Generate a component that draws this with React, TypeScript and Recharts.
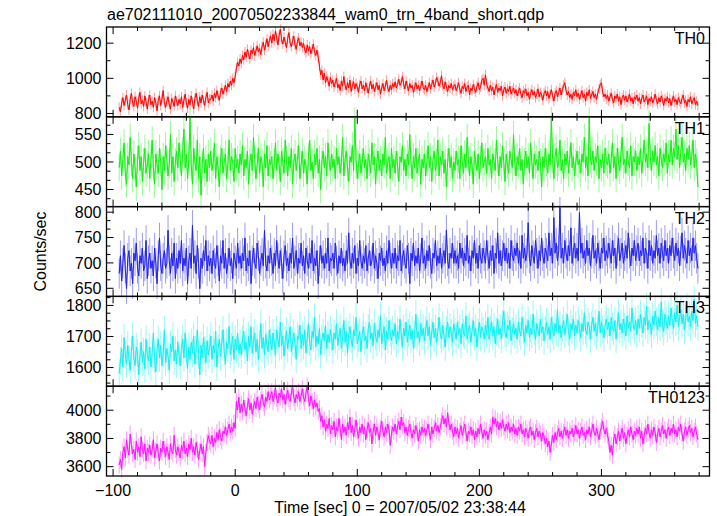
import React from 'react';
import { LineChart, Line, XAxis, YAxis, ErrorBar } from 'recharts';

// light curve bins: start time and width (sec)
const T_START = -95;
const T_STEP = 1;

const th0 = [
  835, 810, 860, 890, 845, 875, 905, 850, 820, 880, 915, 860, 840, 895, 870, 830, 885, 920, 855, 875, 840, 900, 865, 825, 880,
  905, 850, 870, 835, 890, 860, 815, 875, 900, 845, 880, 930, 860, 835, 870, 895, 850, 825, 885, 865, 840, 900, 870, 845, 880,
  855, 895, 835, 875, 910, 860, 830, 880, 850, 900, 865, 825, 885, 915, 870, 840, 895, 860, 905, 875, 845, 890, 920, 860, 880,
  880, 905, 870, 915, 890, 930, 900, 875, 920, 945, 910, 935, 960, 925, 970, 950, 985, 960, 1000, 975, 1010, 1060, 1090, 1070, 1110,
  1085, 1130, 1105, 1150, 1120, 1165, 1135, 1110, 1160, 1140, 1175, 1130, 1155, 1185, 1150, 1170, 1135, 1180, 1205, 1160, 1190, 1225, 1180, 1215, 1240,
  1200, 1250, 1215, 1270, 1230, 1190, 1245, 1280, 1220, 1195, 1235, 1205, 1175, 1225, 1260, 1200, 1180, 1215, 1240, 1190, 1165, 1210, 1230, 1185, 1205,
  1175, 1200, 1160, 1145, 1190, 1155, 1180, 1140, 1165, 1195, 1150, 1130, 1160, 1120, 1070, 1020, 1045, 990, 1030, 975, 1010, 985, 955, 1005, 970,
  990, 950, 975, 1000, 945, 965, 930, 985, 955, 1010, 960, 935, 975, 945, 990, 925, 960, 980, 940, 970, 950, 920, 965, 985, 940,
  960, 930, 975, 945, 915, 955, 985, 940, 965, 925, 950, 975, 935, 960, 910, 945, 970, 930, 955, 990, 945, 925, 960, 935, 970,
  950, 980, 945, 965, 995, 960, 975, 1010, 965, 940, 985, 955, 930, 970, 945, 960, 920, 950, 975, 940, 960, 930, 955, 985, 945,
  935, 960, 925, 950, 975, 940, 965, 990, 950, 970, 1005, 985, 955, 975, 1015, 960, 940, 980, 950, 925, 960, 945, 970, 935, 955,
  965, 930, 950, 975, 935, 915, 955, 940, 970, 925, 950, 960, 905, 945, 930, 965, 940, 920, 955, 975, 935, 950, 990, 1000, 960,
  1020, 965, 945, 925, 960, 930, 950, 905, 940, 965, 920, 945, 930, 955, 900, 935, 950, 915, 940, 925, 955, 910, 930, 945, 915,
  935, 900, 925, 945, 910, 890, 930, 915, 940, 900, 920, 880, 915, 935, 905, 925, 890, 910, 940, 895, 920, 905, 875, 915, 930,
  900, 925, 885, 910, 935, 900, 870, 915, 930, 895, 920, 945, 905, 935, 960, 975, 930, 905, 925, 890, 910, 880, 920, 900, 935,
  895, 915, 880, 905, 930, 890, 910, 870, 920, 900, 935, 885, 905, 925, 890, 910, 880, 915, 940, 965, 975, 920, 895, 910, 885,
  905, 870, 895, 915, 880, 860, 900, 885, 910, 870, 895, 850, 890, 905, 875, 900, 865, 885, 910, 870, 890, 855, 895, 880, 905,
  870, 890, 855, 885, 905, 865, 880, 900, 850, 885, 870, 895, 860, 880, 910, 875, 855, 890, 865, 900, 880, 845, 885, 870, 895,
  860, 885, 845, 875, 900, 865, 880, 850, 890, 870, 855, 885, 905, 860, 875, 840, 880, 865, 895, 855, 875, 890, 850, 870, 845,
];

const th1 = [
  490, 520, 475, 505, 535, 480, 460, 510, 495, 545, 500, 470, 515, 490, 455, 505, 530, 485, 510, 465, 500, 525, 480, 495, 515,
  470, 505, 540, 490, 460, 515, 495, 480, 525, 500, 450, 510, 485, 530, 505, 475, 495, 550, 480, 510, 465, 500, 520, 490, 535,
  505, 475, 520, 560, 490, 515, 470, 505, 580, 495, 460, 525, 500, 485, 540, 470, 510, 440, 495, 525, 480, 505, 465, 515, 490,
  520, 485, 500, 535, 470, 510, 490, 455, 505, 525, 480, 500, 515, 470, 495, 540, 485, 510, 500, 465, 525, 490, 505, 480, 515,
  495, 530, 475, 505, 490, 520, 460, 500, 515, 485, 545, 505, 470, 495, 525, 480, 510, 500, 455, 515, 490, 530, 475, 505, 495,
  510, 470, 500, 535, 485, 515, 495, 465, 520, 500, 480, 540, 505, 475, 510, 490, 525, 460, 500, 515, 485, 505, 530, 470, 495,
  520, 480, 505, 495, 460, 510, 540, 485, 500, 470, 515, 495, 525, 480, 505, 450, 500, 520, 490, 510, 475, 535, 500, 485, 515,
  490, 505, 470, 525, 495, 510, 480, 500, 545, 475, 505, 520, 490, 465, 510, 500, 530, 485, 580, 505, 470, 495, 515, 480, 500,
  525, 490, 505, 470, 515, 500, 480, 535, 495, 510, 460, 500, 520, 485, 505, 475, 515, 495, 545, 480, 500, 510, 470, 525, 490,
  505, 480, 520, 495, 465, 510, 500, 530, 485, 505, 475, 515, 495, 550, 500, 470, 510, 490, 525, 480, 500, 515, 460, 505, 490,
  515, 475, 500, 530, 490, 510, 465, 505, 520, 485, 500, 540, 475, 510, 495, 520, 480, 505, 455, 500, 525, 490, 510, 470, 500,
  485, 520, 495, 505, 470, 530, 500, 480, 515, 490, 545, 505, 475, 510, 495, 460, 520, 500, 485, 515, 470, 505, 535, 490, 500,
  510, 480, 525, 495, 505, 470, 515, 500, 485, 540, 505, 475, 510, 490, 530, 500, 465, 515, 495, 480, 520, 505, 490, 550, 500,
  475, 510, 495, 525, 485, 505, 460, 500, 520, 490, 510, 480, 535, 500, 470, 515, 495, 505, 485, 520, 500, 455, 510, 490, 525,
  500, 480, 515, 495, 580, 505, 470, 510, 525, 490, 500, 540, 485, 505, 470, 515, 495, 520, 480, 505, 535, 490, 510, 475, 500,
  520, 495, 505, 480, 515, 500, 545, 490, 510, 475, 580, 505, 495, 520, 485, 510, 500, 530, 470, 505, 490, 515, 480, 525, 500,
  495, 515, 480, 505, 535, 490, 510, 470, 525, 500, 485, 515, 545, 495, 505, 480, 520, 500, 490, 530, 475, 510, 500, 520, 485,
  510, 495, 525, 480, 505, 540, 500, 515, 490, 570, 510, 485, 520, 500, 530, 495, 510, 475, 525, 505, 490, 515, 500, 535, 480,
  515, 500, 540, 495, 525, 510, 560, 505, 530, 490, 520, 545, 500, 515, 485, 525, 505, 530, 495, 510, 540, 490, 515, 500, 455,
];

const th2 = [
  680, 715, 665, 700, 735, 690, 650, 710, 725, 685, 700, 660, 720, 705, 740, 690, 675, 715, 700, 730, 685, 695, 745, 670, 705,
  720, 690, 705, 675, 730, 700, 660, 715, 750, 695, 680, 710, 725, 690, 700, 765, 705, 680, 720, 695, 740, 670, 710, 690, 725,
  700, 745, 685, 710, 695, 730, 660, 705, 720, 690, 775, 700, 715, 680, 735, 700, 650, 710, 690, 725, 705, 745, 685, 715, 695,
  710, 680, 725, 700, 690, 735, 705, 665, 715, 700, 745, 690, 720, 680, 700, 730, 695, 710, 670, 720, 705, 690, 740, 700, 715,
  690, 720, 705, 750, 685, 710, 695, 725, 660, 705, 730, 700, 690, 740, 715, 680, 705, 720, 695, 765, 700, 685, 715, 700, 730,
  705, 680, 720, 695, 745, 710, 690, 725, 700, 670, 715, 735, 695, 710, 685, 720, 700, 750, 690, 705, 725, 680, 710, 700, 740,
  695, 715, 680, 730, 705, 690, 720, 700, 745, 685, 710, 695, 725, 660, 705, 735, 700, 715, 690, 720, 700, 750, 685, 710, 705,
  720, 690, 740, 705, 680, 715, 700, 730, 695, 710, 685, 725, 700, 760, 705, 690, 720, 700, 735, 680, 710, 695, 745, 705, 690,
  715, 700, 735, 685, 710, 725, 695, 705, 740, 690, 715, 700, 670, 720, 705, 730, 695, 710, 685, 725, 700, 745, 710, 690, 720,
  700, 730, 690, 715, 705, 745, 685, 710, 725, 700, 690, 735, 710, 660, 720, 705, 740, 695, 715, 700, 730, 685, 710, 750, 700,
  715, 690, 725, 705, 735, 700, 680, 720, 710, 745, 695, 715, 700, 730, 690, 710, 725, 700, 765, 705, 690, 720, 710, 740, 700,
  725, 700, 715, 690, 740, 710, 730, 695, 720, 705, 755, 700, 715, 685, 725, 710, 745, 700, 720, 690, 735, 710, 700, 730, 715,
  700, 745, 715, 690, 725, 705, 735, 680, 720, 710, 760, 700, 725, 695, 715, 740, 705, 730, 700, 720, 690, 745, 715, 705, 730,
  715, 740, 700, 725, 690, 755, 710, 730, 705, 720, 780, 710, 695, 735, 715, 700, 745, 720, 690, 725, 705, 750, 715, 700, 730,
  720, 705, 760, 715, 730, 700, 790, 720, 740, 705, 725, 810, 710, 730, 700, 745, 720, 705, 735, 715, 770, 700, 725, 740, 710,
  730, 705, 800, 720, 740, 710, 725, 700, 745, 715, 730, 695, 720, 755, 710, 725, 700, 740, 715, 690, 730, 720, 750, 705, 725,
  710, 740, 720, 700, 745, 715, 730, 690, 725, 750, 705, 720, 740, 700, 715, 735, 710, 760, 720, 695, 730, 715, 745, 705, 725,
  740, 705, 725, 715, 750, 700, 730, 720, 690, 745, 715, 735, 700, 725, 710, 755, 715, 730, 700, 740, 720, 705, 745, 715, 730,
  700, 735, 715, 750, 720, 705, 740, 715, 730, 695, 725, 760, 710, 735, 720, 700, 745, 715, 730, 705, 750, 720, 735, 710, 690,
];

const th3 = [
  1580, 1620, 1660, 1600, 1695, 1640, 1610, 1670, 1625, 1590, 1655, 1700, 1630, 1605, 1665, 1645, 1575, 1635, 1680, 1615, 1650, 1595, 1690, 1640, 1620,
  1665, 1600, 1645, 1710, 1625, 1585, 1655, 1690, 1630, 1670, 1605, 1645, 1720, 1615, 1660, 1635, 1590, 1675, 1650, 1700, 1620, 1655, 1610, 1680, 1640,
  1605, 1660, 1690, 1630, 1710, 1650, 1595, 1665, 1625, 1680, 1645, 1700, 1610, 1655, 1720, 1640, 1575, 1670, 1630, 1695, 1655, 1615, 1685, 1640, 1660,
  1700, 1625, 1670, 1645, 1715, 1600, 1660, 1690, 1635, 1675, 1720, 1650, 1610, 1680, 1660, 1730, 1640, 1665, 1700, 1625, 1690, 1655, 1710, 1645, 1675,
  1640, 1690, 1715, 1655, 1680, 1620, 1700, 1665, 1730, 1645, 1685, 1710, 1650, 1690, 1625, 1675, 1740, 1660, 1695, 1640, 1705, 1670, 1650, 1720, 1680,
  1655, 1710, 1680, 1640, 1720, 1690, 1665, 1745, 1670, 1700, 1635, 1685, 1715, 1660, 1695, 1730, 1650, 1680, 1710, 1675, 1625, 1700, 1690, 1735, 1660,
  1705, 1670, 1720, 1645, 1690, 1740, 1680, 1655, 1715, 1695, 1760, 1665, 1700, 1675, 1725, 1640, 1690, 1710, 1685, 1735, 1660, 1705, 1680, 1720, 1695,
  1655, 1710, 1690, 1740, 1670, 1700, 1725, 1660, 1695, 1750, 1680, 1715, 1645, 1705, 1730, 1690, 1665, 1720, 1700, 1760, 1675, 1695, 1715, 1650, 1705,
  1730, 1685, 1700, 1660, 1725, 1745, 1690, 1710, 1670, 1740, 1700, 1680, 1720, 1695, 1765, 1675, 1705, 1730, 1655, 1715, 1690, 1750, 1710, 1685, 1720,
  1700, 1740, 1675, 1715, 1690, 1755, 1705, 1665, 1725, 1700, 1745, 1680, 1710, 1735, 1690, 1720, 1660, 1705, 1770, 1695, 1715, 1680, 1740, 1700, 1725,
  1685, 1720, 1750, 1700, 1730, 1670, 1710, 1745, 1695, 1725, 1680, 1715, 1760, 1705, 1690, 1735, 1700, 1665, 1720, 1745, 1695, 1730, 1710, 1680, 1740,
  1715, 1690, 1745, 1705, 1725, 1675, 1740, 1710, 1700, 1765, 1690, 1720, 1735, 1680, 1715, 1750, 1700, 1725, 1665, 1710, 1745, 1695, 1730, 1715, 1690,
  1735, 1705, 1760, 1690, 1720, 1745, 1700, 1730, 1675, 1715, 1755, 1705, 1725, 1690, 1740, 1780, 1710, 1695, 1735, 1720, 1750, 1685, 1715, 1740, 1705,
  1725, 1690, 1745, 1715, 1700, 1760, 1720, 1680, 1735, 1710, 1750, 1695, 1725, 1705, 1770, 1715, 1690, 1740, 1720, 1700, 1755, 1710, 1730, 1685, 1720,
  1745, 1705, 1730, 1690, 1760, 1720, 1700, 1740, 1715, 1785, 1710, 1735, 1695, 1725, 1750, 1705, 1730, 1770, 1715, 1690, 1740, 1720, 1755, 1700, 1735,
  1710, 1750, 1725, 1695, 1740, 1715, 1775, 1720, 1705, 1745, 1730, 1690, 1735, 1760, 1715, 1740, 1700, 1725, 1780, 1710, 1745, 1720, 1695, 1735, 1755,
  1720, 1745, 1700, 1760, 1730, 1715, 1750, 1690, 1735, 1775, 1720, 1740, 1710, 1755, 1730, 1700, 1765, 1725, 1745, 1715, 1790, 1735, 1720, 1750, 1705,
  1755, 1725, 1770, 1740, 1710, 1760, 1735, 1795, 1720, 1750, 1740, 1705, 1765, 1735, 1780, 1745, 1720, 1760, 1730, 1810, 1740, 1715, 1770, 1750, 1725,
  1765, 1735, 1790, 1750, 1725, 1775, 1745, 1800, 1730, 1760, 1785, 1740, 1770, 1720, 1755, 1795, 1745, 1765, 1730, 1780, 1750, 1820, 1740, 1765, 1730,
];

const th0123 = [
  3610, 3650, 3580, 3700, 3740, 3660, 3790, 3720, 3680, 3830, 3750, 3690, 3720, 3650, 3780, 3700, 3740, 3670, 3810, 3720, 3690, 3760, 3640, 3730, 3700,
  3750, 3680, 3720, 3790, 3660, 3710, 3760, 3690, 3640, 3730, 3700, 3780, 3720, 3670, 3740, 3700, 3650, 3760, 3710, 3690, 3820, 3720, 3680, 3740, 3700,
  3660, 3750, 3710, 3780, 3690, 3730, 3670, 3760, 3720, 3800, 3700, 3740, 3680, 3770, 3720, 3650, 3710, 3760, 3690, 3740, 3600, 3700, 3770, 3820, 3780,
  3760, 3820, 3740, 3800, 3770, 3840, 3790, 3860, 3810, 3780, 3850, 3830, 3880, 3820, 3860, 3900, 3840, 3880, 3850, 3910, 3870, 4060, 4000, 4090, 3980,
  4040, 3990, 4070, 4010, 3960, 4030, 4080, 4000, 4050, 3970, 4020, 4060, 4010, 4090, 4040, 4000, 4070, 4110, 4050, 4020, 4090, 4060, 4130, 4070, 4100,
  4130, 4060, 4100, 4160, 4080, 4050, 4120, 4090, 4150, 4070, 4110, 4040, 4100, 4140, 4080, 4060, 4120, 4170, 4090, 4050, 4110, 4080, 4130, 4060, 4100,
  4150, 4090, 4060, 4120, 4170, 4080, 4030, 4100, 4060, 4010, 4070, 4020, 4050, 3990, 4010, 3920, 3960, 3880, 3930, 3850, 3900, 3870, 3940, 3830, 3890,
  3860, 3920, 3810, 3880, 3850, 3940, 3870, 3790, 3900, 3840, 3880, 3820, 3910, 3860, 3950, 3840, 3890, 3810, 3870, 3930, 3850, 3800, 3880, 3840, 3900,
  3830, 3880, 3790, 3860, 3910, 3840, 3870, 3760, 3850, 3900, 3820, 3880, 3840, 3790, 3870, 3920, 3850, 3810, 3880, 3840, 3900, 3860, 3750, 3830, 3880,
  3850, 3900, 3830, 3880, 3920, 3860, 3950, 3890, 3910, 3840, 3880, 3820, 3870, 3900, 3840, 3800, 3860, 3830, 3890, 3850, 3780, 3860, 3820, 3880, 3840,
  3870, 3820, 3860, 3900, 3840, 3790, 3880, 3830, 3870, 3910, 3850, 3890, 3840, 3880, 3920, 3960, 3900, 3940, 3880, 3980, 3910, 3860, 3900, 3850, 3810,
  3880, 3830, 3870, 3800, 3850, 3890, 3820, 3860, 3900, 3840, 3780, 3850, 3830, 3880, 3820, 3860, 3790, 3850, 3810, 3870, 3830, 3900, 3850, 3800, 3860,
  3820, 3850, 3790, 3840, 3880, 3830, 3950, 3900, 3940, 3880, 3920, 3860, 3910, 3870, 3930, 3880, 3850, 3900, 3860, 3910, 3840, 3880, 3850, 3900, 3830,
  3870, 3820, 3880, 3850, 3900, 3830, 3860, 3810, 3870, 3840, 3800, 3860, 3880, 3820, 3850, 3790, 3840, 3870, 3810, 3850, 3830, 3780, 3840, 3810, 3760,
  3800, 3740, 3780, 3700, 3760, 3820, 3770, 3840, 3790, 3830, 3870, 3810, 3850, 3800, 3840, 3880, 3820, 3860, 3800, 3850, 3830, 3870, 3810, 3840, 3890,
  3830, 3860, 3800, 3850, 3880, 3820, 3840, 3790, 3860, 3830, 3880, 3810, 3850, 3900, 3840, 3820, 3870, 3830, 3790, 3850, 3880, 3920, 3860, 3830, 3870,
  3820, 3780, 3700, 3750, 3680, 3790, 3830, 3760, 3810, 3850, 3780, 3830, 3870, 3800, 3840, 3760, 3820, 3860, 3810, 3880, 3830, 3790, 3850, 3820, 3870,
  3830, 3880, 3800, 3850, 3760, 3820, 3870, 3830, 3900, 3840, 3800, 3860, 3820, 3880, 3840, 3770, 3830, 3870, 3810, 3850, 3890, 3830, 3860, 3800, 3850,
  3880, 3820, 3870, 3840, 3900, 3830, 3860, 3810, 3880, 3850, 3900, 3830, 3780, 3850, 3880, 3820, 3860, 3890, 3840, 3870, 3810, 3850, 3880, 3830, 3790,
];

// half-length of the error bars (counts/sec)
const TH0_ERR = 28;
const TH1_ERR = 25;
const TH2_ERR = 30;
const TH3_ERR = 45;
const TH0123_ERR = 60;

const X_DOMAIN = [-105.4, 388.5];
const X_MAJOR = [-100, 0, 100, 200, 300];
const X_MINOR_STEP = 20;

const FONT = '"Liberation Sans", Arial, Helvetica, sans-serif';
const W = 717;
const PLOT_LEFT = 106.5;
const PLOT_RIGHT = 709.5;
const PLOT_TOP = 27;
const PANEL_H = 89.8;
const PAD = 10;
const MAJOR_LEN = 7;
const MINOR_LEN = 4;

const panels = [
  { name: 'TH0', values: th0, err: TH0_ERR, domain: [781, 1292], majors: [800, 1000, 1200], step: 100, color: '#ff0000', light: '#ff9a9a' },
  { name: 'TH1', values: th1, err: TH1_ERR, domain: [419, 582], majors: [450, 500, 550], step: 50 / 3, color: '#10f010', light: '#9af79a' },
  { name: 'TH2', values: th2, err: TH2_ERR, domain: [634, 811], majors: [650, 700, 750, 800], step: 50 / 3, color: '#2020f0', light: '#9a9af5' },
  { name: 'TH3', values: th3, err: TH3_ERR, domain: [1540, 1829], majors: [1600, 1700, 1800], step: 25, color: '#10f0f0', light: '#9af7f7' },
  { name: 'TH0123', values: th0123, err: TH0123_ERR, domain: [3534, 4170], majors: [3600, 3800, 4000], step: 100, color: '#ff10ff', light: '#ff9aff' },
];

const range = (lo: number, hi: number, step: number) => {
  const out: number[] = [];
  const start = Math.ceil((lo - 1e-6) / step);
  for (let k = start; k * step <= hi + 1e-6; k++) out.push(k * step);
  return out;
};

const xTicks = range(X_DOMAIN[0], X_DOMAIN[1], X_MINOR_STEP);
const isMajor = (v: number, majors: number[]) => majors.some((m) => Math.abs(m - v) < 1e-6);
const fmt = (v: number) => (v < 0 ? '\u2212' + Math.abs(v) : String(v));

const XLabel = (props: any) => {
  const { payload, show } = props;
  if (!show || !isMajor(payload.value, X_MAJOR)) return <g />;
  return (
    <text x={Number(props.x)} y={Number(props.y) + 20} textAnchor="middle" fontSize={16} fontFamily={FONT} fill="#000">
      {fmt(payload.value)}
    </text>
  );
};

const YLabel = (props: any) => {
  const { payload, show, majors } = props;
  if (!show || !isMajor(payload.value, majors)) return <g />;
  return (
    <text x={Number(props.x) - 5} y={Number(props.y) + 5.5} textAnchor="end" fontSize={16} fontFamily={FONT} fill="#000">
      {Math.round(payload.value)}
    </text>
  );
};

// inward tick marks on all four sides of a panel frame
const frameTicks = (p: any, i: number) => {
  const top = PLOT_TOP + i * PANEL_H;
  const bottom = top + PANEL_H;
  const sx = (v: number) => PLOT_LEFT + ((v - X_DOMAIN[0]) / (X_DOMAIN[1] - X_DOMAIN[0])) * (PLOT_RIGHT - PLOT_LEFT);
  const sy = (v: number) => top + ((p.domain[1] - v) / (p.domain[1] - p.domain[0])) * PANEL_H;
  let d = '';
  xTicks.forEach((v) => {
    const len = isMajor(v, X_MAJOR) ? MAJOR_LEN : MINOR_LEN;
    const x = sx(v);
    d += `M${x},${bottom}V${bottom - len}M${x},${top}V${top + len}`;
  });
  range(p.domain[0], p.domain[1], p.step).forEach((v) => {
    const len = isMajor(v, p.majors) ? MAJOR_LEN : MINOR_LEN;
    const y = sy(v);
    d += `M${PLOT_LEFT},${y}H${PLOT_LEFT + len}M${PLOT_RIGHT},${y}H${PLOT_RIGHT - len}`;
  });
  return <path key={'ticks' + p.name} d={d} stroke="#000" strokeWidth={1} fill="none" />;
};

const Panel = ({ p, index, last }: { p: any; index: number; last: boolean }) => {
  const data = p.values.map((v: number, i: number) => ({ t: T_START + i * T_STEP, v, e: p.err }));
  const yTicks = range(p.domain[0], p.domain[1], p.step);
  const bottomH = last ? 30 : 0;
  const top = PLOT_TOP + index * PANEL_H;
  const common = {
    tickSize: 0,
    tickMargin: 0,
    axisLine: false,
    tickLine: false,
    interval: 0 as const,
    allowDataOverflow: true,
    type: 'number' as const,
  };
  return (
    <div style={{ position: 'absolute', left: 0, top: top - PAD }}>
      <LineChart
        width={W}
        height={PANEL_H + 2 * PAD + bottomH}
        data={data}
        margin={{ top: PAD, right: 0, bottom: PAD, left: 0 }}
      >
        <XAxis
          {...common}
          xAxisId="b"
          dataKey="t"
          orientation="bottom"
          domain={X_DOMAIN}
          ticks={xTicks}
          height={bottomH}
          tick={(tp: any) => <XLabel {...tp} show={last} />}
        />
        <YAxis
          {...common}
          yAxisId="l"
          orientation="left"
          domain={p.domain}
          ticks={yTicks}
          width={PLOT_LEFT}
          tick={(tp: any) => <YLabel {...tp} show majors={p.majors} />}
        />
        <YAxis
          {...common}
          yAxisId="r"
          orientation="right"
          domain={p.domain}
          ticks={yTicks}
          width={W - PLOT_RIGHT}
          tick={false}
        />
        <Line
          xAxisId="b"
          yAxisId="l"
          type="linear"
          dataKey="v"
          stroke={p.light}
          strokeWidth={1}
          dot={false}
          isAnimationActive={false}
        >
          <ErrorBar dataKey="e" direction="y" width={0} stroke={p.light} strokeWidth={1} isAnimationActive={false} />
        </Line>
        <Line
          xAxisId="b"
          yAxisId="l"
          type="linear"
          dataKey="v"
          stroke={p.color}
          strokeWidth={1}
          dot={false}
          isAnimationActive={false}
        />
      </LineChart>
    </div>
  );
};

export default function App() {
  return (
    <div style={{ position: 'absolute', left: 0, top: 0, width: W, height: 516, background: '#fff' }}>
      {panels.map((p, i) => (
        <Panel key={p.name} p={p} index={i} last={i === panels.length - 1} />
      ))}
      <svg width={W} height={516} style={{ position: 'absolute', left: 0, top: 0, pointerEvents: 'none' }}>
        {panels.map((p, i) => (
          <rect
            key={'frame' + p.name}
            x={PLOT_LEFT}
            y={PLOT_TOP + i * PANEL_H}
            width={PLOT_RIGHT - PLOT_LEFT}
            height={PANEL_H}
            fill="none"
            stroke="#000"
            strokeWidth={1.3}
          />
        ))}
        {panels.map((p, i) => frameTicks(p, i))}
        <g fontFamily={FONT} fontSize={16} fill="#000">
          <text x={107} y={20}>ae702111010_20070502233844_wam0_trn_4band_short.qdp</text>
          <text x={400} y={513} textAnchor="middle">
            Time [sec] 0 = 2007/05/02 23:38:44
          </text>
          <text transform={`translate(46, ${PLOT_TOP + 2.5 * PANEL_H}) rotate(-90)`} textAnchor="middle">
            Counts/sec
          </text>
          {panels.map((p, i) => (
            <text key={p.name} x={705} y={PLOT_TOP + i * PANEL_H + 17} textAnchor="end">
              {p.name}
            </text>
          ))}
        </g>
      </svg>
    </div>
  );
}
